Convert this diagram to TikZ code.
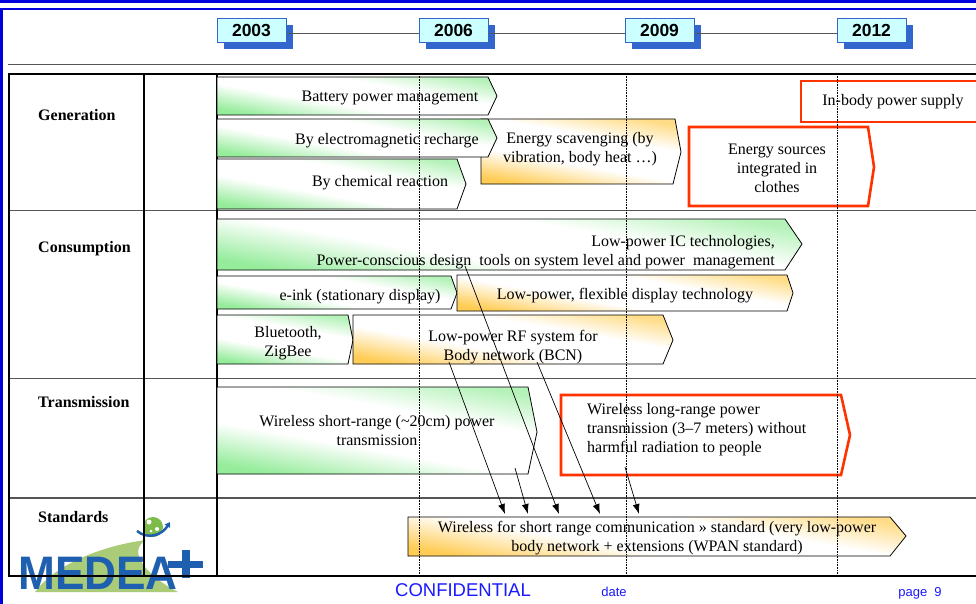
\documentclass[tikz,border=0pt]{standalone}
\usepackage{fontspec}
\setmainfont{Liberation Serif}
\setsansfont{Liberation Sans}
\usetikzlibrary{arrows.meta,shadows}
\definecolor{slideblue}{HTML}{0000DD}
\definecolor{yearblue}{HTML}{3366CC}
\definecolor{yearfill}{HTML}{CCFFFF}
\definecolor{bargreen}{HTML}{95EC9B}
\definecolor{bargreenlt}{HTML}{B5F2B9}
\definecolor{barorange}{HTML}{FFCC55}
\definecolor{barorangelt}{HTML}{FFDD88}
\definecolor{barred}{HTML}{FF3300}
\definecolor{rowgray}{HTML}{555555}
\definecolor{logoblue}{HTML}{1F5FAF}
\definecolor{logogreen}{HTML}{AACC78}
\definecolor{globegreen}{HTML}{7DBB4A}
\definecolor{footblue}{HTML}{1A1AFF}
\pgfdeclarehorizontalshading{greenfade}{100bp}{color(0bp)=(bargreen); color(25bp)=(bargreen);
  color(42bp)=(white); color(60bp)=(white); color(75bp)=(bargreenlt); color(100bp)=(bargreenlt)}
\pgfdeclarehorizontalshading{orangefade}{100bp}{color(0bp)=(barorange); color(25bp)=(barorange);
  color(42bp)=(white); color(60bp)=(white); color(75bp)=(barorangelt); color(100bp)=(barorangelt)}
\tikzset{
  greenbar/.style={draw=black,line width=0.8pt,shade,shading=greenfade,shading angle=80},
  orangebar/.style={draw=black,line width=0.8pt,shade,shading=orangefade,shading angle=80},
  redbar/.style={draw=barred,line width=2.6pt,fill=white,line join=miter},
  bartext/.style={font=\fontsize{16}{19}\selectfont,align=center,inner sep=0pt},
  rowlabel/.style={font=\bfseries\fontsize{16}{19}\selectfont,anchor=west,inner sep=0pt},
  yearbox/.style={draw=yearblue,line width=1pt,fill=yearfill,minimum width=69pt,minimum height=24pt,inner sep=0pt,
    font=\sffamily\bfseries\fontsize{17.5}{20}\selectfont,
    drop shadow={shadow xshift=7pt,shadow yshift=-7pt,fill=yearblue,opacity=1}},
  timeline/.style={draw=rowgray,line width=1pt},
  tabline/.style={line width=2.2pt},
  rowline/.style={draw=rowgray,line width=1.8pt},
  yearline/.style={densely dotted,line width=0.6pt},
  feeds/.style={line width=0.7pt,-{Latex[length=10pt,width=7pt]}},
  foot/.style={text=footblue,font=\sffamily,inner sep=0pt}
}
\begin{document}
\begin{tikzpicture}[x=1pt,y=-1pt]
\useasboundingbox[fill=white] (0,0) rectangle (976,604);
% slide frame
\draw[slideblue,line width=3pt] (0,1.5) -- (976,1.5);
\draw[slideblue,line width=2.3pt] (0,9) -- (976,9);
\draw[slideblue,line width=2.5pt] (1.5,9) -- (1.5,604);
% years
\node[yearbox] (y2003) at (251.5,30.3) {2003};
\node[yearbox] (y2006) at (453.5,30.3) {2006};
\node[yearbox] (y2009) at (659.5,30.3) {2009};
\node[yearbox] (y2012) at (871.5,30.3) {2012};
\draw[timeline] ([yshift=-3pt]y2003.east) -- ([yshift=-3pt]y2006.west);
\draw[timeline] ([yshift=-3pt]y2006.east) -- ([yshift=-3pt]y2009.west);
\draw[timeline] ([yshift=-3pt]y2009.east) -- ([yshift=-3pt]y2012.west);
% logo
\fill[logogreen] (35,592) .. controls (55,565) and (100,546) .. (146,540)
  .. controls (125,552) and (150,578) .. (178,592) -- cycle;
\node[anchor=base west,inner sep=0pt,text=logoblue,font=\sffamily\bfseries\fontsize{47}{47}\selectfont] (medea) at (18,589) {\scalebox{0.94}[1]{MEDEA}};
\fill[logoblue] (168,561) rectangle (203,568);
\fill[logoblue] (182,550) rectangle (190,578);
\fill[globegreen] (153,527) circle (10);
\fill[white] (149,522) circle (2.5) (157,529) circle (2) (151,531) circle (1.5);
\draw[logoblue,line width=2.5pt,-{Triangle[length=5pt,width=6pt]}] (137,531) .. controls (148,540) and (162,535) .. (170,522);
% table
\draw[rowgray,line width=1pt] (8,65) -- (978,65);
\draw[line width=2.5pt] (8,74) -- (978,74);
\foreach \y in {210.5,378.5,498} \draw[rowline] (9,\y) -- (978,\y);
\foreach \x in {9,144,217} \draw[tabline] (\x,74) -- (\x,576);
\draw[line width=2.5pt] (8,576) -- (978,576);
\node[rowlabel] (lgen) at (38,115) {Generation};
\node[rowlabel] (lcons) at (38,249) {Consumption};
\node[rowlabel] (ltrans) at (38,402) {Transmission};
\node[rowlabel] (lstd) at (38,517) {Standards};
% generation
\path[orangebar] (481,119) -- (675,119) -- (681,152) -- (673,184) -- (481,184) -- cycle;
\path[greenbar] (217,77) -- (488,77) -- (497,96) -- (488,115) -- (217,115) -- cycle;
\path[greenbar] (217,119) -- (488,119) -- (497,138) -- (488,157) -- (217,157) -- cycle;
\path[greenbar] (217,159) -- (457,159) -- (466,184) -- (457,209) -- (217,209) -- cycle;
\path[redbar] (689,127) -- (868,127) -- (874,167) -- (868,206) -- (689,206) -- cycle;
\draw[redbar] (980,81) -- (801,81) -- (801,122) -- (980,122);
\node[bartext] (batt) at (390,98) {Battery power management};
\node[bartext] (emag) at (387,141) {By electromagnetic recharge};
\node[bartext] (chem) at (380,183) {By chemical reaction};
\node[bartext] (scav) at (580,149) {Energy scavenging (by\\vibration, body heat \dots)};
\node[bartext] (cloth) at (777,168) {Energy sources\\integrated in\\clothes};
\node[bartext] (inbody) at (893,102) {In-body power supply};
% consumption
\path[greenbar] (217,219) -- (785,219) -- (802,244) -- (785,270) -- (217,270) -- cycle;
\path[greenbar] (217,276) -- (451,276) -- (457,293) -- (451,309) -- (217,309) -- cycle;
\path[orangebar] (457,275) -- (787,275) -- (793,293) -- (787,311) -- (457,311) -- cycle;
\path[greenbar] (217,315) -- (348,315) -- (353,340) -- (348,364) -- (217,364) -- cycle;
\path[orangebar] (353,315) -- (663,315) -- (673,340) -- (663,364) -- (353,364) -- cycle;
\node[bartext,align=right,anchor=east] (ic) at (775,252.5) {Low-power IC technologies,\\Power-conscious design\ \ tools on system level and power\ \ management};
\node[bartext] (eink) at (360,297) {e-ink (stationary display)};
\node[bartext] (flex) at (625,296) {Low-power, flexible display technology};
\node[bartext] (bt) at (288,343) {Bluetooth,\\ZigBee};
\node[bartext] (rf) at (513,347.5) {Low-power RF system for\\Body network (BCN)};
% transmission
\path[greenbar] (217,387) -- (528,387) -- (537,432) -- (528,474) -- (217,474) -- cycle;
\path[redbar] (561,395) -- (841,395) -- (850,435) -- (841,475) -- (561,475) -- cycle;
\node[bartext] (wshort) at (377,430.5) {Wireless short-range (\textasciitilde20cm) power\\transmission};
\node[bartext,align=left,anchor=west] (wlong) at (587,429.5) {Wireless long-range power\\transmission (3--7 meters) without\\harmful radiation to people};
% standards
\path[orangebar] (408,517) -- (890,517) -- (906,536) -- (890,556) -- (408,556) -- cycle;
\node[bartext] (wpan) at (657,538.5) {Wireless for short range communication » standard (very low-power\\body network + extensions (WPAN standard)};
% year gridlines
\foreach \x in {419.5,626,837} \draw[yearline] (\x,74) -- (\x,576);
% feeds into the standard
\coordinate (rfL) at (449,362);
\coordinate (rfR) at (537,362);
\coordinate (design) at (465,266);
\coordinate (shortIn) at (515,468);
\coordinate (longIn) at (625,467);
\coordinate (s1) at (505,514);
\coordinate (s2) at (528,514);
\coordinate (s3) at (559,514);
\coordinate (s4) at (600,514);
\coordinate (s5) at (639,514);
\draw[feeds] (rfL) -- (s1);
\draw[feeds] (shortIn) -- (s2);
\draw[feeds] (design) -- (s3);
\draw[feeds] (rfR) -- (s4);
\draw[feeds] (longIn) -- (s5);
% footer
\node[foot,font=\sffamily\fontsize{18.5}{20}\selectfont] (conf) at (463,590) {CONFIDENTIAL};
\node[foot,font=\sffamily\fontsize{13}{15}\selectfont] (date) at (614,592) {date};
\node[foot,font=\sffamily\fontsize{13}{15}\selectfont] (page) at (920,593) {page\ \ 9};
\end{tikzpicture}
\end{document}
